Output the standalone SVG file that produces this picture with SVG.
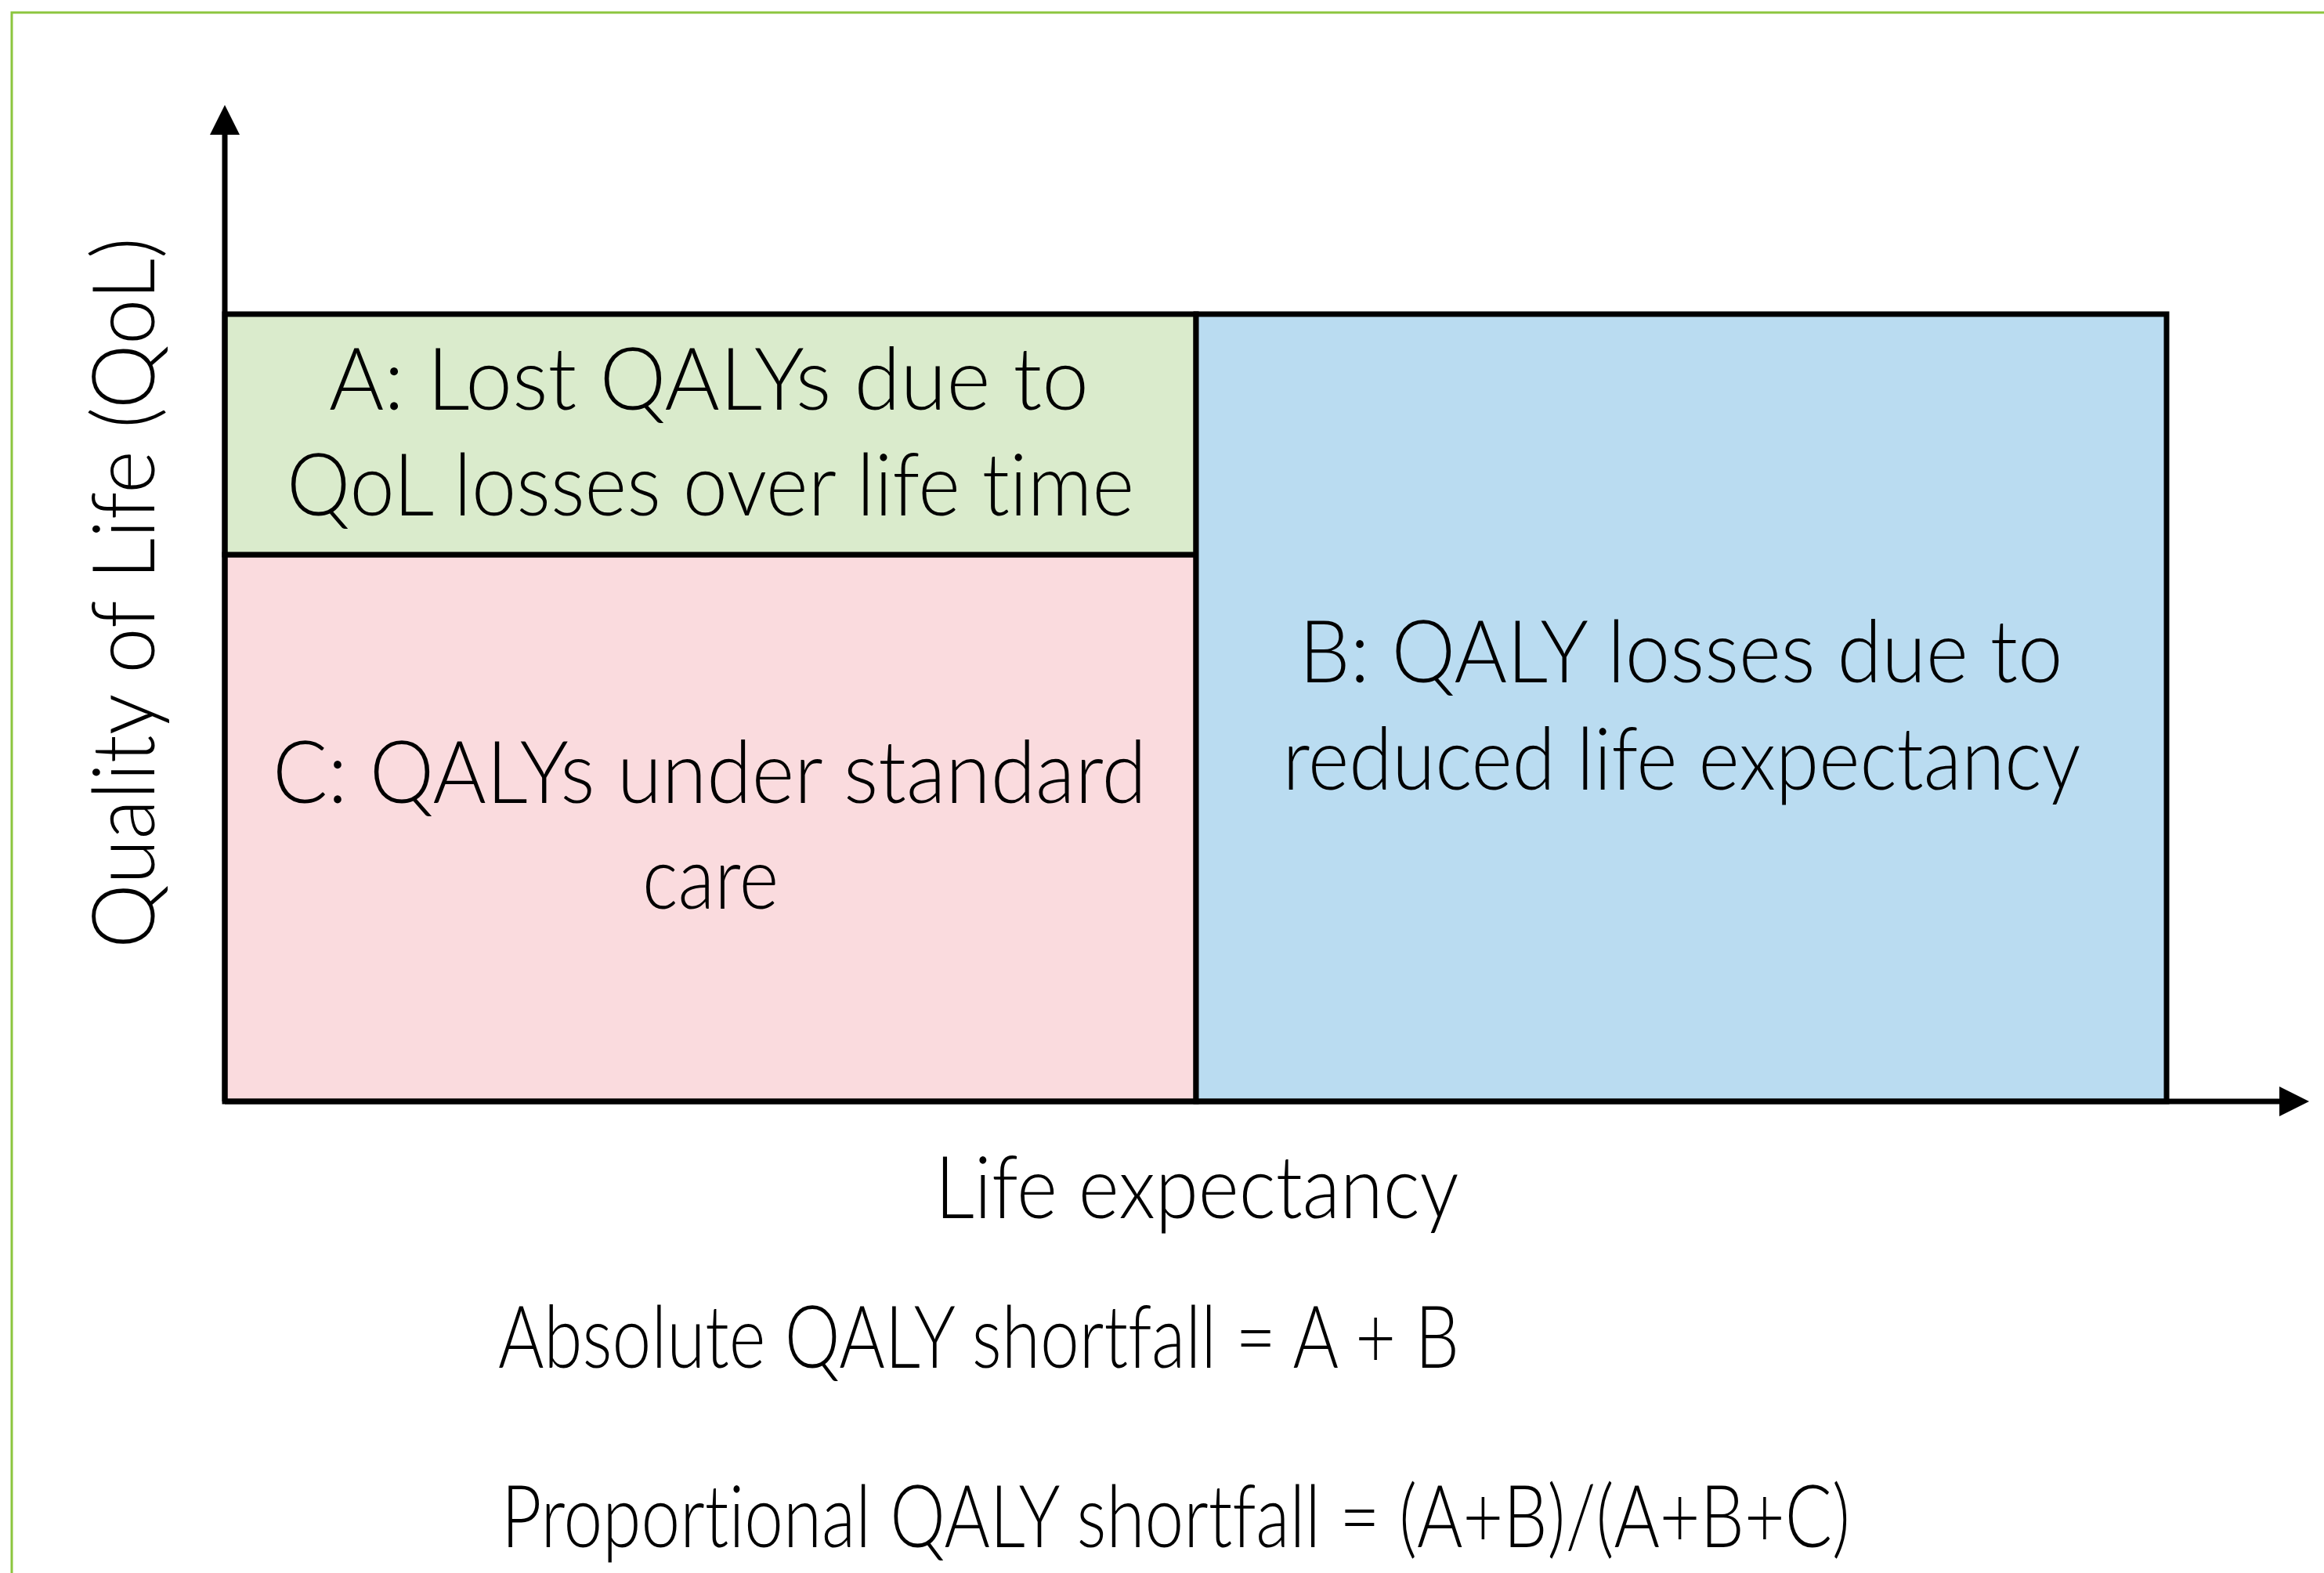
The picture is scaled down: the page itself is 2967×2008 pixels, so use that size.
<svg xmlns="http://www.w3.org/2000/svg" width="2967" height="2008" viewBox="0 0 2967 2008">
<style>
.t{font-family:"Lato","Liberation Sans",sans-serif;font-weight:300;font-size:110px;fill:#000;font-variant-ligatures:none;font-feature-settings:"liga" 0,"dlig" 0}
.box{stroke:#000;stroke-width:7}
.axis{stroke:#000;stroke-width:7;fill:none}
</style>
<defs>
<marker id="arr" markerUnits="userSpaceOnUse" markerWidth="40" markerHeight="40" viewBox="0 0 40 40" refX="2" refY="20" orient="auto">
<path d="M0,1 L38,20 L0,39 Z" fill="#000"/>
</marker>
</defs>
<rect width="2967" height="2008" fill="#fff"/>
<rect x="15" y="16" width="3000" height="2100" fill="none" stroke="#8CC63E" stroke-width="3"/>
<g id="nodeC">
<rect class="box" x="287" y="708" width="1240" height="698" fill="#FADBDE"/>
<text class="t" x="906" y="1025" text-anchor="middle" textLength="1116" lengthAdjust="spacingAndGlyphs">C: QALYs under standard</text>
<text class="t" x="907" y="1160" text-anchor="middle" textLength="174" lengthAdjust="spacingAndGlyphs">care</text>
</g>
<g id="nodeA">
<rect class="box" x="287" y="401" width="1240" height="307" fill="#DAEBCC"/>
<text class="t" x="905" y="523" text-anchor="middle" textLength="970" lengthAdjust="spacingAndGlyphs">A: Lost QALYs due to</text>
<text class="t" x="907" y="658" text-anchor="middle" textLength="1082" lengthAdjust="spacingAndGlyphs">QoL losses over life time</text>
</g>
<g id="nodeB">
<rect class="box" x="1527" y="401" width="1239" height="1005" fill="#BADCF1"/>
<text class="t" x="2146" y="871" text-anchor="middle" textLength="975" lengthAdjust="spacingAndGlyphs">B: QALY losses due to</text>
<text class="t" x="2147" y="1008" text-anchor="middle" textLength="1019" lengthAdjust="spacingAndGlyphs">reduced life expectancy</text>
</g>
<g id="connectors">
<line class="axis" x1="287" y1="1406" x2="287" y2="170" marker-end="url(#arr)"/>
<line class="axis" x1="287" y1="1406" x2="2912" y2="1406" marker-end="url(#arr)"/>
</g>
<g id="yLabel">
<text class="t" x="0" y="0" transform="translate(197,757) rotate(-90)" text-anchor="middle" textLength="908" lengthAdjust="spacingAndGlyphs">Quality of Life (QoL)</text>
</g>
<g id="xLabel">
<text class="t" x="1528" y="1555" text-anchor="middle" textLength="669" lengthAdjust="spacingAndGlyphs">Life expectancy</text>
</g>
<g id="formulas">
<text class="t" x="636" y="1746" textLength="1227" lengthAdjust="spacingAndGlyphs">Absolute QALY shortfall = A + B</text>
<text class="t" x="640" y="1975" textLength="1722" lengthAdjust="spacingAndGlyphs">Proportional QALY shortfall = (A+B)/(A+B+C)</text>
</g>
</svg>
